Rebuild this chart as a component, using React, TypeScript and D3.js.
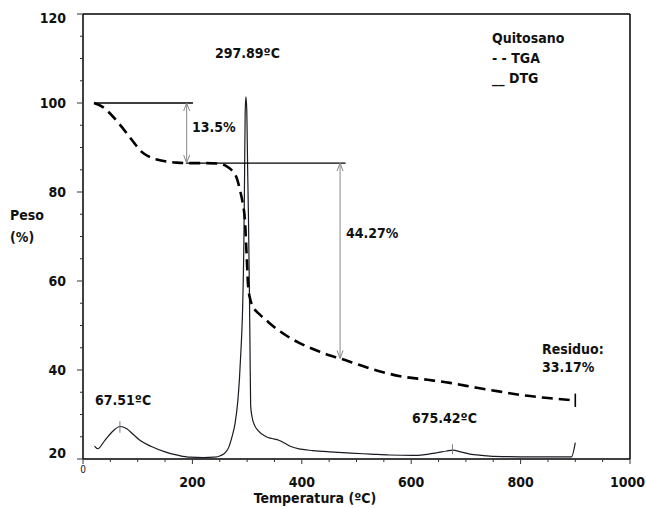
import React from "react";
import * as d3 from "d3";

const tgaT = [20, 35, 49, 65, 80, 95, 104, 120, 135, 155, 171, 190, 226, 245, 256, 266, 274, 282, 287, 292, 296, 299, 302, 306, 311, 322, 335, 350, 366, 380, 397, 415, 433, 450, 470, 506, 540, 580, 630, 671, 720, 760, 799, 850, 900];
const tgaW = [100, 99.2, 97.7, 95.5, 93.2, 90.8, 89.4, 88, 87.3, 86.8, 86.6, 86.5, 86.5, 86.4, 86.2, 85.5, 84.6, 82.8, 80.4, 77.5, 73.7, 66.3, 58.7, 55.8, 54.2, 52.6, 51.2, 49.6, 48.2, 47.1, 46, 45, 44.1, 43.3, 42.6, 41.1, 39.8, 38.6, 37.8, 37.1, 36, 35.2, 34.4, 33.7, 33.17];

const dtgT = [21, 27, 40, 55, 67.5, 80, 92, 104, 125, 150, 175, 195, 220, 240, 252, 259, 266, 272, 278, 283, 286, 289, 291.6, 294, 295.3, 296.5, 297.9, 299.5, 301, 302.4, 304, 305.3, 306.5, 309, 314, 320, 335, 345, 358, 368, 380, 398, 420, 451, 490, 526, 560, 602, 625, 647, 665, 676, 690, 707, 730, 752, 800, 850, 893, 900];
const dtgW = [22.9, 22.3, 24.2, 26.3, 27.3, 26.8, 25.5, 24.2, 22.8, 21.6, 20.8, 20.4, 20.3, 20.4, 20.8, 21.3, 22.5, 24.8, 28, 33, 38, 45, 52.8, 67.7, 82.7, 98, 101.4, 98, 85, 75, 60, 45, 32, 29.5, 27.5, 26.4, 25, 24.6, 24.2, 23.6, 22.8, 22.2, 21.9, 21.6, 21.3, 21.1, 20.9, 20.8, 21, 21.4, 21.8, 22, 21.6, 21.1, 20.8, 20.6, 20.5, 20.5, 20.5, 23.7];

const xTickLabels = [200, 400, 600, 800, 1000];
const yTickLabels = [20, 40, 60, 80, 100, 120];

const FONT = "'DejaVu Sans Condensed', 'DejaVu Sans', sans-serif";

export default function App() {
  const x = d3.scaleLinear().domain([0, 1000]).range([83, 630]);
  const y = d3.scaleLinear().domain([20, 120]).range([459, 14]);

  const tgaPath = d3
    .line<number>()
    .x((_, i) => x(tgaT[i]))
    .y((d) => y(d))
    .curve(d3.curveMonotoneX)(tgaW) as string;
  const dtgPath = d3
    .line<number>()
    .x((_, i) => x(dtgT[i]))
    .y((d) => y(d))
    .curve(d3.curveMonotoneX)(dtgW) as string;

  const xMinor = d3.range(0, 1001, 50);
  const yMinor = d3.range(20, 121, 5);

  const arrow = (t: number, w1: number, w2: number) => {
    const X = x(t);
    const Y1 = y(w1);
    const Y2 = y(w2);
    return (
      <g stroke="#888" strokeWidth={1} fill="none">
        <line x1={X} y1={Y1} x2={X} y2={Y2} />
        <polyline points={`${X - 3},${Y1 + 8} ${X},${Y1} ${X + 3},${Y1 + 8}`} />
        <polyline points={`${X - 3},${Y2 - 8} ${X},${Y2} ${X + 3},${Y2 - 8}`} />
      </g>
    );
  };

  const txt = { fontFamily: FONT, fontWeight: 700, fontSize: 14, fill: "#111" } as const;
  const yLabelY = (w: number) => (w === 20 ? y(w) - 6 : w === 120 ? y(w) + 4 : y(w)) + 5;

  return (
    <svg width={646} height={508} style={{ position: "absolute", left: 0, top: 0, background: "#fff" }}>
      <rect x={0} y={0} width={646} height={508} fill="#fff" />
      {/* frame */}
      <g stroke="#000" strokeWidth={1.5} fill="none">
        <line x1={x(0)} y1={y(120)} x2={x(1000)} y2={y(120)} />
        <line x1={x(1000)} y1={y(120)} x2={x(1000)} y2={y(20)} />
        <line x1={x(0)} y1={y(120)} x2={x(0)} y2={y(20)} />
        <line x1={x(0)} y1={y(20)} x2={x(1000)} y2={y(20)} />
      </g>
      {/* x ticks */}
      <g stroke="#333" strokeWidth={1}>
        {xMinor.map((t) => (
          <line key={t} x1={x(t)} x2={x(t)} y1={y(20)} y2={y(20) + (t % 200 === 0 ? 5 : 3)} />
        ))}
      </g>
      {/* y ticks */}
      <g stroke="#333" strokeWidth={1}>
        {yMinor.map((w) => (
          <line key={w} x1={x(0)} x2={x(0) - (w % 20 === 0 ? 6 : 3)} y1={y(w)} y2={y(w)} />
        ))}
      </g>
      {xTickLabels.map((t) => (
        <text key={t} x={t === 1000 ? 645 : x(t)} y={487} textAnchor={t === 1000 ? "end" : "middle"} {...txt}>
          {t}
        </text>
      ))}
      <text x={x(0)} y={473} textAnchor="middle" fontFamily={FONT} fontSize={10} fill="#111">
        0
      </text>
      {yTickLabels.map((w) => (
        <text key={w} x={66} y={yLabelY(w)} textAnchor="end" {...txt}>
          {w}
        </text>
      ))}
      <text x={10} y={220} {...txt}>Peso</text>
      <text x={10} y={242} {...txt}>(%)</text>
      <text x={315} y={503} textAnchor="middle" {...txt}>Temperatura (ºC)</text>

      {/* curves */}
      <path d={dtgPath} fill="none" stroke="#1a1a22" strokeWidth={1.2} />
      <path d={tgaPath} fill="none" stroke="#000" strokeWidth={2.6} strokeDasharray="11,6" />

      {/* annotations */}
      <g stroke="#000" strokeWidth={1.3}>
        <line x1={x(22)} y1={y(100)} x2={x(201)} y2={y(100)} />
        <line x1={x(188)} y1={y(86.5)} x2={x(480)} y2={y(86.5)} />
        <line x1={x(900)} y1={y(34.7)} x2={x(900)} y2={y(31.7)} strokeWidth={1.6} />
      </g>
      {arrow(189.5, 100, 86.5)}
      {arrow(470, 86.5, 42.6)}
      <g stroke="#777" strokeWidth={1}>
        <line x1={x(67.5)} x2={x(67.5)} y1={y(28.5)} y2={y(25.9)} />
        <line x1={x(675.4)} x2={x(675.4)} y1={y(23.3)} y2={y(21.1)} />
      </g>

      <text x={215} y={58} {...txt}>297.89ºC</text>
      <text x={192} y={132} {...txt}>13.5%</text>
      <text x={346} y={238} {...txt}>44.27%</text>
      <text x={542} y={354} {...txt}>Residuo:</text>
      <text x={542} y={372} {...txt}>33.17%</text>
      <text x={95} y={405} {...txt}>67.51ºC</text>
      <text x={412} y={423} {...txt}>675.42ºC</text>

      <text x={492} y={43} {...txt}>Quitosano</text>
      <text x={492} y={63} {...txt}>- - TGA</text>
      <text x={492} y={83} {...txt}>__ DTG</text>
    </svg>
  );
}
